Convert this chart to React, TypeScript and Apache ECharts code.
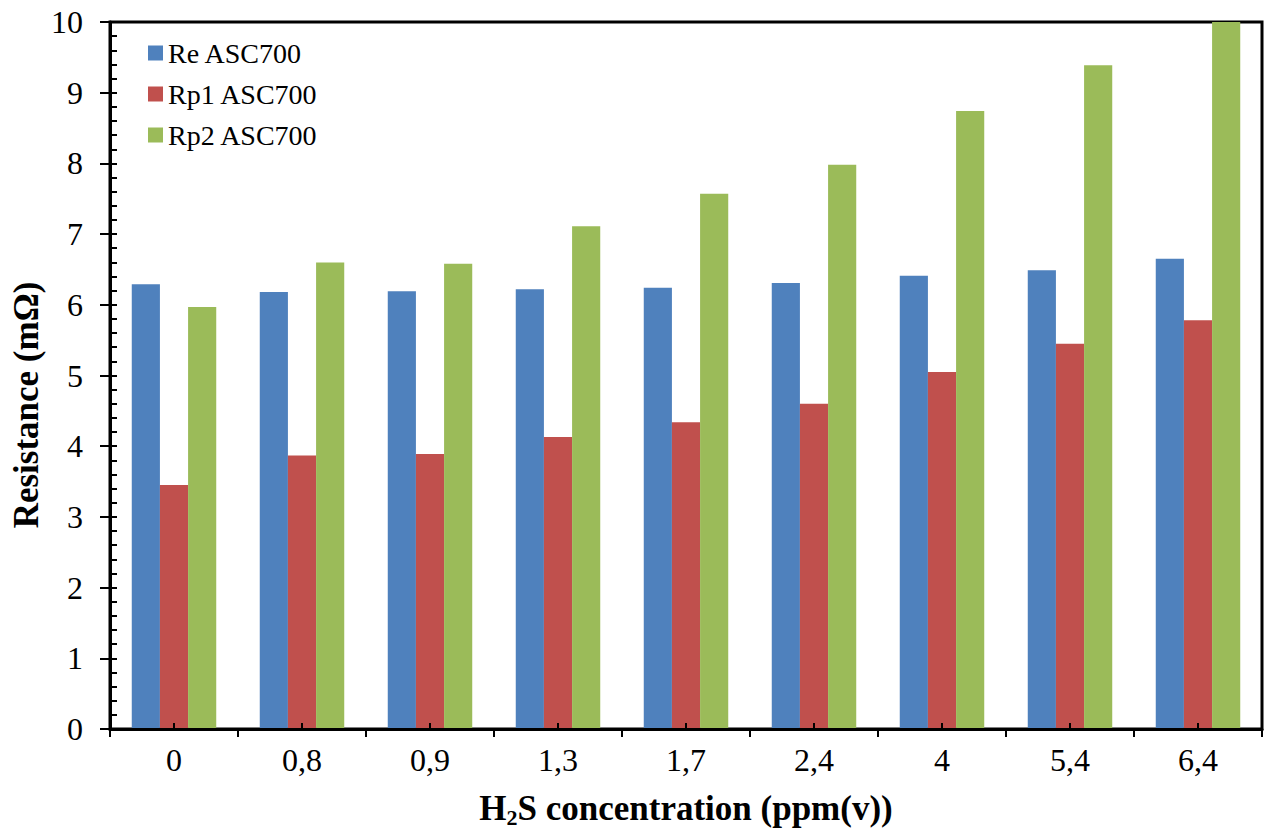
import React, { useEffect, useRef } from 'react';
import * as echarts from 'echarts';

const categories = ['0', '0,8', '0,9', '1,3', '1,7', '2,4', '4', '5,4', '6,4'];
const seriesNames = ['Re ASC700', 'Rp1 ASC700', 'Rp2 ASC700'];
const reValues = [6.29, 6.18, 6.19, 6.22, 6.24, 6.31, 6.41, 6.49, 6.65];
const rp1Values = [3.45, 3.87, 3.89, 4.13, 4.34, 4.6, 5.05, 5.45, 5.78];
const rp2Values = [5.97, 6.6, 6.58, 7.11, 7.57, 7.98, 8.74, 9.39, 10.0];
const colors = ['#4F81BD', '#C0504D', '#9BBB59'];
const yMin = 0;
const yMax = 10;
const yInterval = 1;
const yMinorInterval = 0.2;
const xTitle = { main1: 'H', sub: '2', main2: 'S concentration (ppm(v))' };
const yTitle = 'Resistance (mΩ)';

const FONT = '"Liberation Serif", "Times New Roman", serif';

export default function App() {
  const ref = useRef<HTMLDivElement>(null);
  useEffect(() => {
    if (!ref.current) return;
    const chart = echarts.init(ref.current, undefined, { renderer: 'svg' });
    const values = [reValues, rp1Values, rp2Values];
    chart.setOption({
      animation: false,
      grid: {
        left: 110,
        right: 4,
        top: 22,
        bottom: 103,
        show: true,
        borderColor: '#000',
        borderWidth: 3,
        backgroundColor: 'transparent',
      },
      legend: {
        orient: 'vertical',
        left: 148,
        top: 39,
        padding: 0,
        itemWidth: 15,
        itemHeight: 15,
        itemGap: 13,
        icon: 'rect',
        data: seriesNames,
        textStyle: { fontFamily: FONT, fontSize: 28, color: '#000', lineHeight: 28 },
      },
      xAxis: [
        {
          type: 'category',
          data: categories,
          position: 'bottom',
          z: 10,
          axisLine: { show: true, lineStyle: { color: '#000', width: 3 } },
          axisTick: { show: true, length: 8, lineStyle: { color: '#000', width: 2 } },
          axisLabel: { fontFamily: FONT, fontSize: 32, color: '#000', margin: 15 },
          splitLine: { show: false },
        },
        {
          type: 'category',
          data: categories,
          position: 'bottom',
          z: 10,
          axisLine: { show: false },
          axisTick: { show: true, inside: true, alignWithLabel: true, length: 6, lineStyle: { color: '#000', width: 2 } },
          axisLabel: { show: false },
          splitLine: { show: false },
        },
      ],
      yAxis: [
        {
          type: 'value',
          min: yMin,
          max: yMax,
          interval: yInterval,
          position: 'left',
          z: 10,
          axisLine: { show: true, lineStyle: { color: '#000', width: 3 } },
          axisTick: { show: true, length: 10, lineStyle: { color: '#000', width: 2 } },
          axisLabel: { fontFamily: FONT, fontSize: 32, color: '#000', margin: 27 },
          splitLine: { show: false },
        },
        {
          type: 'value',
          min: yMin,
          max: yMax,
          interval: yMinorInterval,
          position: 'left',
          z: 10,
          axisLine: { show: false },
          axisTick: { show: true, inside: true, length: 7, lineStyle: { color: '#000', width: 2 } },
          axisLabel: { show: false },
          splitLine: { show: false },
        },
      ],
      series: seriesNames.map((name, i) => ({
        name,
        type: 'bar',
        xAxisIndex: 0,
        yAxisIndex: 0,
        data: values[i],
        barGap: '0%',
        barCategoryGap: '34%',
        itemStyle: { color: colors[i] },
      })),
      graphic: [
        {
          type: 'text',
          x: 686,
          y: 808,
          z: 20,
          style: {
            text: `{a|${xTitle.main1}}{b|${xTitle.sub}}{a|${xTitle.main2}}`,
            textAlign: 'center',
            textVerticalAlign: 'middle',
            rich: {
              a: { fontFamily: FONT, fontSize: 35, fontWeight: 'bold', color: '#000', lineHeight: 40 },
              b: { fontFamily: FONT, fontSize: 22, fontWeight: 'bold', color: '#000', lineHeight: 22, verticalAlign: 'bottom' },
            },
          },
        },
        {
          type: 'text',
          x: 26,
          y: 405,
          rotation: Math.PI / 2,
          z: 20,
          style: {
            text: yTitle,
            fontFamily: FONT,
            fontSize: 35,
            fontWeight: 'bold',
            fill: '#000',
            textAlign: 'center',
            textVerticalAlign: 'middle',
          },
        },
      ],
    });
    return () => chart.dispose();
  }, []);
  return (
    <div
      ref={ref}
      style={{ position: 'absolute', left: 0, top: 0, width: 1266, height: 832, background: '#fff' }}
    />
  );
}
